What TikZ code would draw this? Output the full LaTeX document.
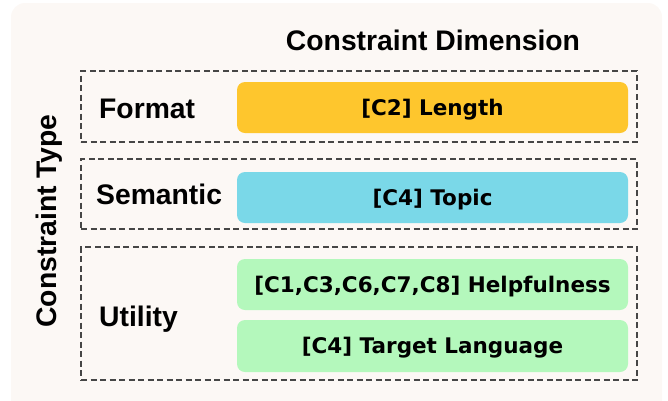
\documentclass[tikz,border=0pt]{standalone}
\usepackage{fontspec}
\setmainfont{Liberation Sans}
\newfontfamily\boxfont{DejaVu Sans}
\definecolor{bgcol}{RGB}{252,248,245}
\definecolor{ylw}{RGB}{254,198,45}
\definecolor{cyn}{RGB}{122,216,232}
\definecolor{grn}{RGB}{180,248,188}
\definecolor{dashcol}{RGB}{70,70,70}
\tikzset{
  grpbox/.style={draw=dashcol, line width=1.6pt, dash pattern=on 6pt off 3.5pt, minimum width=556pt, inner sep=0pt},
  dimbox/.style={rounded corners=8pt, minimum width=391pt, minimum height=51pt, inner sep=0pt,
    text height=15.7pt, text depth=0pt,
    font=\boxfont\bfseries\fontsize{21.5}{24}\selectfont},
  lbl/.style={font=\bfseries\fontsize{28.3}{30}\selectfont, inner sep=0pt}
}
\begin{document}
\begin{tikzpicture}[x=1pt,y=-1pt]
\useasboundingbox (0,0) rectangle (668,400);
\fill[bgcol, rounded corners=14pt] (11,3) rectangle (662,415);
\node[lbl, anchor=base] (title) at (433,50) {Constraint Dimension};
\node[lbl, rotate=90] (ctype) at (49,221) {Constraint Type};
\node[grpbox, minimum height=71pt] (g1) at (359,106.5) {};
\node[grpbox, minimum height=70pt] (g2) at (359,194) {};
\node[grpbox, minimum height=133pt] (g3) at (359,313.5) {};
\node[lbl, anchor=base west] (fmt) at (99,118) {Format};
\node[lbl, anchor=base west] (sem) at (96,204) {Semantic};
\node[lbl, anchor=base west] (utl) at (99,326) {Utility};
\node[dimbox, fill=ylw] (len) at (432.5,107.5) {[C2] Length};
\node[dimbox, fill=cyn] (top) at (432.5,197.5) {[C4] Topic};
\node[dimbox, fill=grn] (help) at (432.5,284.5) {[C1,C3,C6,C7,C8] Helpfulness};
\node[dimbox, fill=grn, minimum height=52pt] (tl) at (432.5,346) {[C4] Target Language};
\end{tikzpicture}
\end{document}
